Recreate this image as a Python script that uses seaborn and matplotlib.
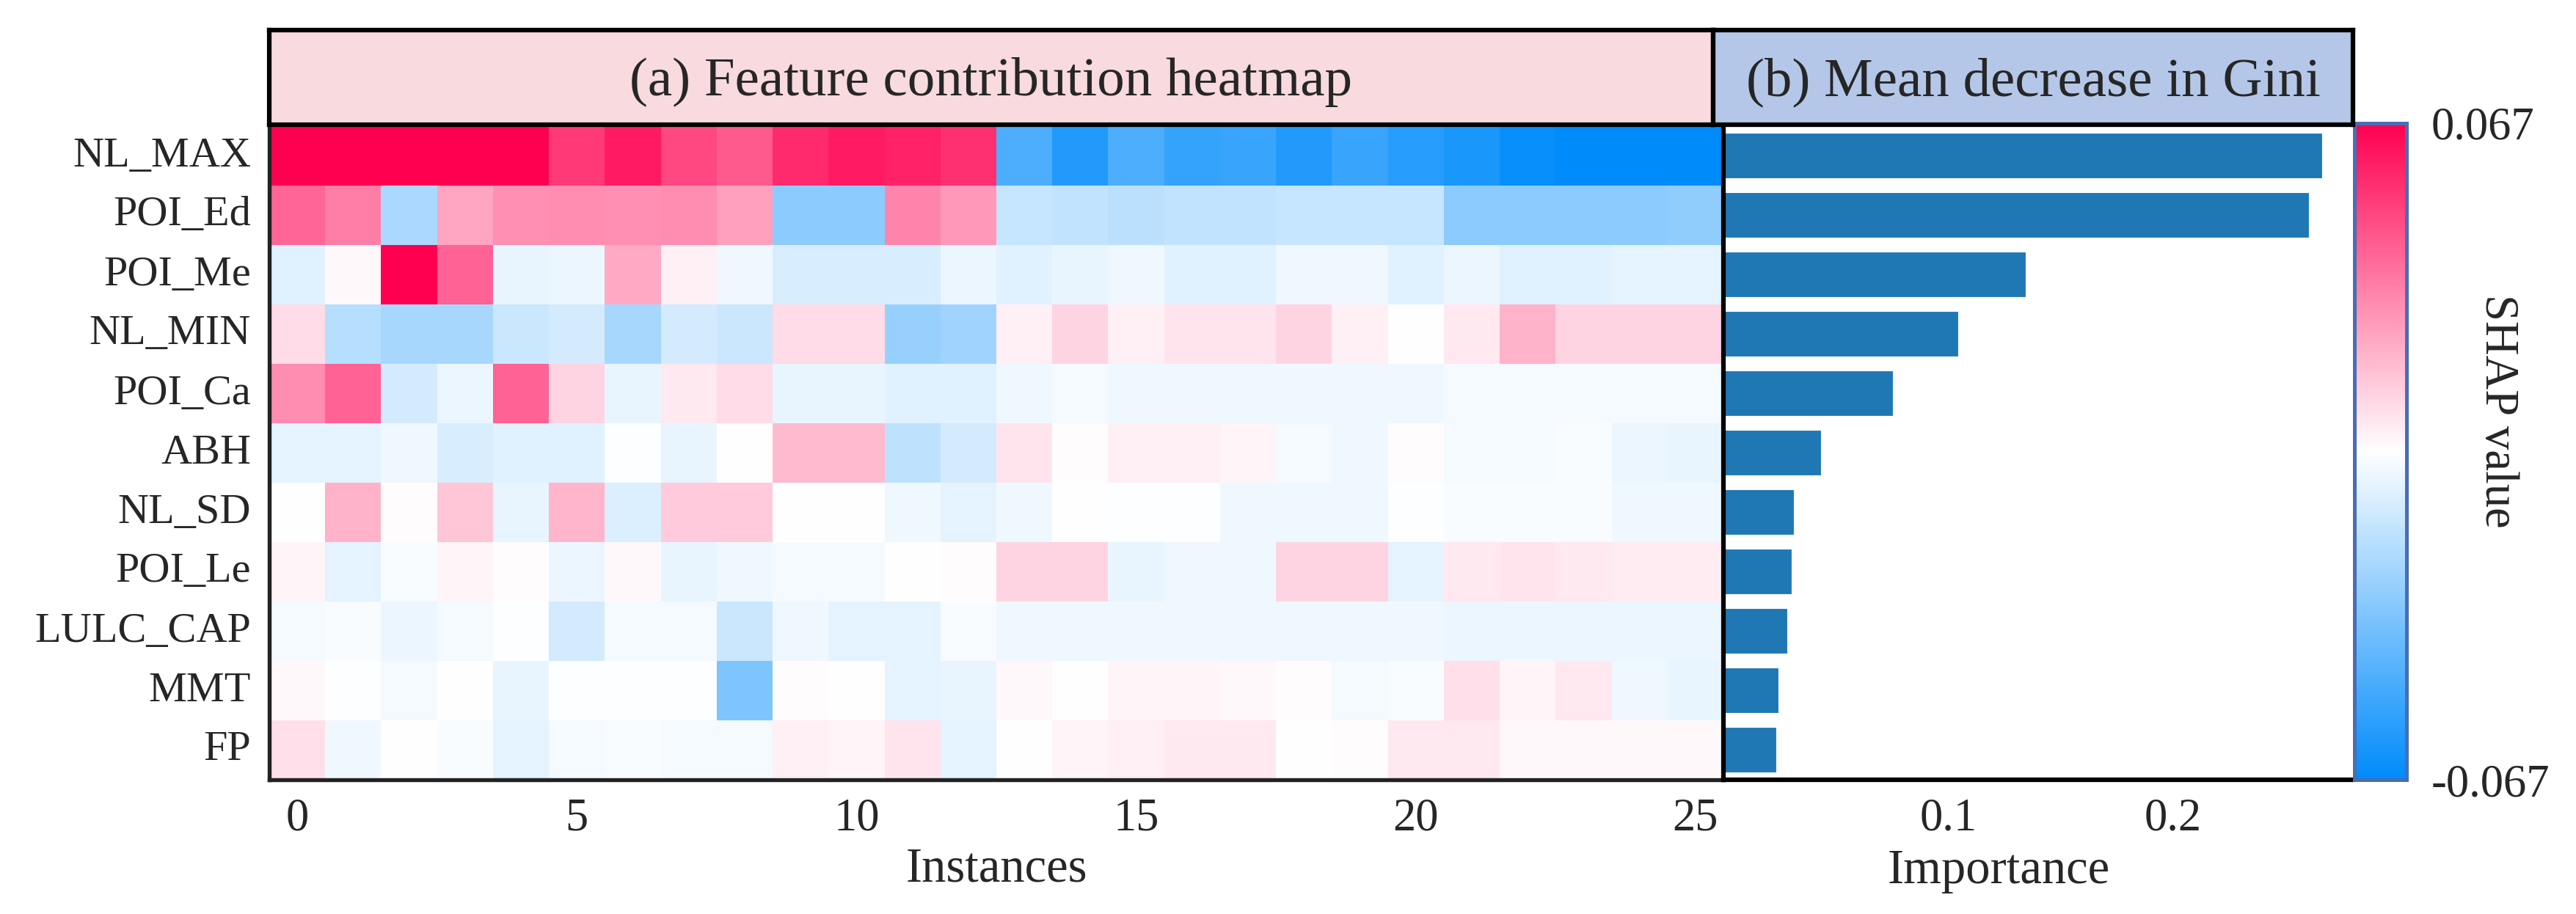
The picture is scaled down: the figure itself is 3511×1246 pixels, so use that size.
import numpy as np
import pandas as pd
import matplotlib.pyplot as plt
import seaborn as sns
from matplotlib.colors import LinearSegmentedColormap

# ---- data ----
features = ['NL_MAX', 'POI_Ed', 'POI_Me', 'NL_MIN', 'POI_Ca', 'ABH',
            'NL_SD', 'POI_Le', 'LULC_CAP', 'MMT', 'FP']
instances = list(range(26))

# SHAP values for instances 0..25
nl_max = [0.067, 0.067, 0.067, 0.067, 0.067, 0.052, 0.060, 0.048, 0.043, 0.056,
          0.060, 0.058, 0.054, -0.047, -0.058, -0.047, -0.053, -0.052, -0.058, -0.052,
          -0.057, -0.060, -0.065, -0.067, -0.067, -0.067]
poi_ed = [0.040, 0.034, -0.022, 0.024, 0.029, 0.030, 0.029, 0.030, 0.025, -0.030,
          -0.030, 0.032, 0.027, -0.015, -0.016, -0.018, -0.016, -0.016, -0.015, -0.015,
          -0.015, -0.030, -0.030, -0.030, -0.030, -0.029]
poi_me = [-0.008, 0.002, 0.067, 0.041, -0.006, -0.005, 0.022, 0.004, -0.004, -0.010,
          -0.010, -0.010, -0.005, -0.008, -0.006, -0.004, -0.008, -0.008, -0.004, -0.004,
          -0.008, -0.005, -0.008, -0.008, -0.007, -0.007]
nl_min = [0.009, -0.019, -0.023, -0.023, -0.014, -0.011, -0.023, -0.011, -0.014, 0.009,
          0.009, -0.027, -0.025, 0.004, 0.011, 0.004, 0.007, 0.007, 0.011, 0.004,
          0.000, 0.006, 0.020, 0.011, 0.011, 0.011]
poi_ca = [0.030, 0.041, -0.011, -0.005, 0.041, 0.011, -0.006, 0.006, 0.009, -0.006,
          -0.006, -0.008, -0.008, -0.004, -0.003, -0.004, -0.004, -0.004, -0.004, -0.004,
          -0.004, -0.003, -0.003, -0.003, -0.003, -0.003]
abh = [-0.007, -0.007, -0.004, -0.010, -0.008, -0.008, -0.001, -0.006, 0.000, 0.018,
       0.018, -0.017, -0.011, 0.007, 0.001, 0.004, 0.004, 0.003, -0.003, -0.004,
       0.001, -0.003, -0.003, -0.002, -0.005, -0.006]
nl_sd = [0.000, 0.020, 0.001, 0.015, -0.006, 0.019, -0.009, 0.014, 0.014, 0.000,
         0.000, -0.004, -0.007, -0.004, 0.000, -0.001, -0.001, -0.004, -0.004, -0.004,
         -0.001, -0.002, -0.002, -0.002, -0.004, -0.004]
poi_le = [0.003, -0.007, -0.002, 0.003, 0.001, -0.005, 0.002, -0.006, -0.004, -0.003,
          -0.003, 0.000, 0.001, 0.011, 0.011, -0.006, -0.004, -0.004, 0.011, 0.011,
          -0.007, 0.006, 0.007, 0.006, 0.005, 0.005]
lulc_cap = [-0.003, -0.002, -0.005, -0.003, -0.001, -0.011, -0.003, -0.003, -0.014, -0.004,
            -0.007, -0.007, -0.002, -0.004, -0.004, -0.004, -0.004, -0.004, -0.004, -0.004,
            -0.004, -0.005, -0.005, -0.005, -0.005, -0.005]
mmt = [0.002, -0.001, -0.003, 0.000, -0.006, -0.001, -0.001, -0.001, -0.034, 0.001,
       0.000, -0.007, -0.006, 0.002, 0.000, 0.003, 0.003, 0.002, 0.001, -0.003,
       -0.002, 0.008, 0.003, 0.006, -0.004, -0.006]
fp = [0.008, -0.004, 0.000, -0.002, -0.007, -0.003, -0.002, -0.003, -0.003, 0.004,
      0.003, 0.007, -0.007, 0.000, 0.003, 0.004, 0.006, 0.006, 0.000, 0.001,
      0.006, 0.006, 0.002, 0.002, 0.002, 0.002]

# mean decrease in Gini
importance = [0.267, 0.261, 0.135, 0.105, 0.076, 0.044, 0.032, 0.031, 0.029, 0.025, 0.024]

shap_df = pd.DataFrame([nl_max, poi_ed, poi_me, nl_min, poi_ca, abh, nl_sd,
                        poi_le, lulc_cap, mmt, fp], index=features, columns=instances)
imp_df = pd.DataFrame({'feature': features, 'importance': importance})

# ---- style ----
sns.set_style('white')
plt.rcParams['font.family'] = ['Liberation Serif', 'DejaVu Serif']
plt.rcParams['axes.linewidth'] = 1.3

W, H = 3511, 1246
fig = plt.figure(figsize=(W / 300, H / 300), dpi=300)

def box(x0, x1, y0, y1):
    return [x0 / W, 1 - y1 / H, (x1 - x0) / W, (y1 - y0) / H]

ax_hm = fig.add_axes(box(367, 2349, 172, 1063))
ax_bar = fig.add_axes(box(2349, 3207, 172, 1063))
cax = fig.add_axes(box(3209, 3280, 168, 1063))

shap_cmap = LinearSegmentedColormap.from_list('shap_rwb', ['#008bfb', '#ffffff', '#ff0051'])

sns.heatmap(shap_df, cmap=shap_cmap, vmin=-0.067, vmax=0.067, ax=ax_hm, cbar_ax=cax,
            cbar_kws={'ticks': [-0.067, 0.067]})

ax_hm.set_xticks(np.arange(0, 26, 5) + 0.5)
ax_hm.set_xticklabels([str(i) for i in range(0, 26, 5)], rotation=0, fontsize=15)
ax_hm.set_yticks(np.arange(len(features)) + 0.5)
ax_hm.set_yticklabels(features, rotation=0, fontsize=14)
ax_hm.tick_params(axis='both', length=3, width=0.8, color='#555555', pad=3)
ax_hm.set_xlabel('Instances', fontsize=16, labelpad=2)
ax_hm.set_ylabel('')
for side in ['left', 'bottom']:
    ax_hm.spines[side].set_visible(True)
    ax_hm.spines[side].set_color('#222222')
    ax_hm.spines[side].set_linewidth(1.3)
for side in ['top', 'right']:
    ax_hm.spines[side].set_visible(False)

# colorbar
cbar = ax_hm.collections[0].colorbar
cbar.set_ticklabels(['-0.067', '0.067'])
cax.tick_params(length=0, labelsize=15, pad=8)
cbar.outline.set_edgecolor('#4a6db3')
cbar.outline.set_linewidth(1.2)
fig.text(3404 / W, 1 - 560 / H, 'SHAP value', rotation=270, ha='center', va='center', fontsize=15.5)

# bar panel
sns.barplot(data=imp_df, x='importance', y='feature', orient='h', color='#1f77b4',
            saturation=1, width=0.8, ax=ax_bar)
ax_bar.set_xlim(0, 0.28)
ax_bar.set_ylim(len(features) - 0.5, -0.5)
ax_bar.set_xticks([0.1, 0.2])
ax_bar.set_xticklabels(['0.1', '0.2'], fontsize=15)
ax_bar.set_yticks([])
ax_bar.set_ylabel('')
ax_bar.set_xlabel('Importance', fontsize=16)
ax_bar.xaxis.set_label_coords(0.437, -0.105)
ax_bar.tick_params(axis='x', length=3, width=0.8, color='#555555', pad=3)
for side in ['left', 'bottom']:
    ax_bar.spines[side].set_visible(True)
    ax_bar.spines[side].set_color('black')
    ax_bar.spines[side].set_linewidth(1.5)
for side in ['top', 'right']:
    ax_bar.spines[side].set_visible(False)

# panel title boxes
for (x0, x1), label, face in [((367, 2335), '(a) Feature contribution heatmap', '#f8dadf'),
                              ((2335, 3207), '(b) Mean decrease in Gini', '#b5c7e8')]:
    tb = fig.add_axes(box(x0, x1, 41, 170))
    tb.set_facecolor(face)
    tb.set_xticks([])
    tb.set_yticks([])
    for s in tb.spines.values():
        s.set_visible(True)
        s.set_color('black')
        s.set_linewidth(1.5)
    tb.text(0.5, 0.45, label, ha='center', va='center', fontsize=18, transform=tb.transAxes)

fig.savefig('out.png', dpi=300)
